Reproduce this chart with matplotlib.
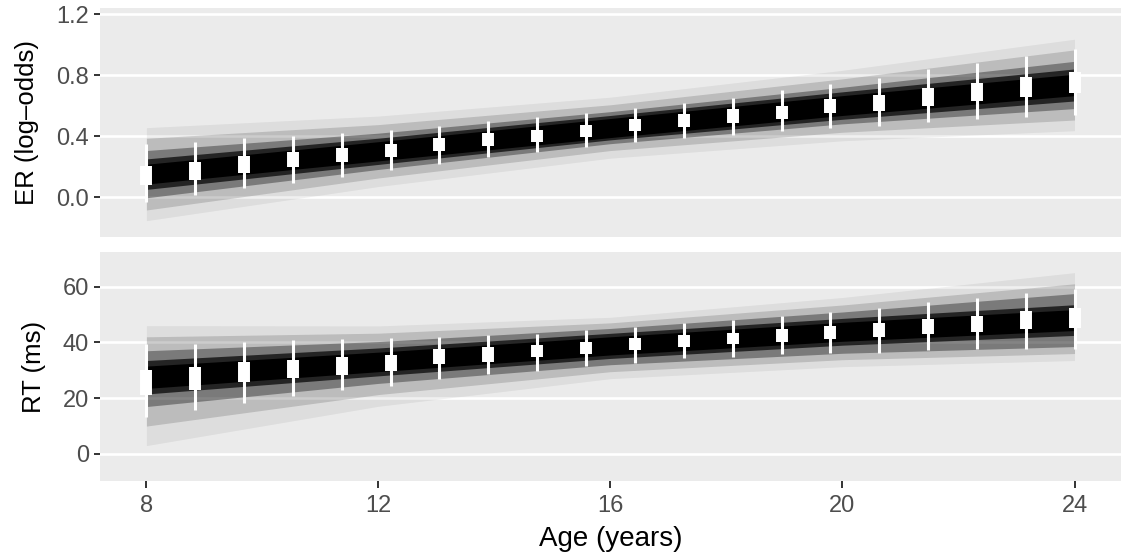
import matplotlib
matplotlib.use("Agg")
import matplotlib.pyplot as plt

plt.rcParams['font.family'] = ['Liberation Sans', 'DejaVu Sans']

# ages of the point intervals
ages = [8.0, 8.84, 9.68, 10.53, 11.37, 12.21, 13.05, 13.89, 14.74, 15.58,
        16.42, 17.26, 18.11, 18.95, 19.79, 20.63, 21.47, 22.32, 23.16, 24.0]

# ER (log-odds): thick and thin intervals
er_thick_lo = [0.079, 0.111, 0.155, 0.195, 0.228, 0.260, 0.304, 0.336, 0.363, 0.395,
               0.433, 0.461, 0.487, 0.511, 0.549, 0.566, 0.599, 0.630, 0.658, 0.684]
er_thick_hi = [0.205, 0.228, 0.271, 0.297, 0.323, 0.348, 0.385, 0.418, 0.440, 0.472,
               0.510, 0.542, 0.575, 0.599, 0.643, 0.669, 0.713, 0.746, 0.785, 0.822]
er_thin_lo = [-0.030, 0.013, 0.057, 0.094, 0.133, 0.177, 0.216, 0.260, 0.297, 0.326,
              0.359, 0.385, 0.407, 0.433, 0.454, 0.468, 0.494, 0.510, 0.527, 0.538]
er_thin_hi = [0.348, 0.363, 0.385, 0.400, 0.418, 0.440, 0.466, 0.498, 0.523, 0.549,
              0.582, 0.614, 0.651, 0.702, 0.739, 0.782, 0.837, 0.877, 0.925, 0.969]

# RT (ms): thick and thin intervals
rt_thick_lo = [21.1, 22.9, 25.8, 27.1, 28.3, 29.9, 32.3, 33.1, 34.7, 35.8,
               37.3, 38.2, 39.3, 40.3, 41.1, 42.0, 42.9, 43.6, 44.7, 45.1]
rt_thick_hi = [30.1, 31.1, 33.0, 33.7, 34.7, 35.5, 37.5, 38.5, 39.1, 40.3,
               41.5, 42.7, 43.5, 44.7, 45.9, 47.1, 48.4, 49.5, 51.3, 52.2]
rt_thin_lo = [13.1, 15.8, 18.2, 20.9, 22.9, 24.5, 26.8, 28.6, 29.7, 31.7,
              32.7, 34.3, 34.9, 35.7, 36.1, 36.3, 37.3, 37.5, 37.5, 37.8]
rt_thin_hi = [39.4, 39.4, 40.1, 40.9, 41.1, 41.5, 42.0, 42.7, 43.0, 44.4,
              45.4, 46.8, 48.0, 49.5, 51.0, 52.4, 54.6, 56.0, 57.8, 59.0]

# spread of the posterior line draws (lower, upper), read at these ages
band_ages = [8, 12, 16, 20, 24]
er_bands = {
    'faint': ([-0.155, 0.069, 0.255, 0.369, 0.435], [0.455, 0.531, 0.655, 0.831, 1.035]),
    'outer': ([-0.085, 0.125, 0.305, 0.425, 0.505], [0.385, 0.475, 0.605, 0.775, 0.965]),
    'mid':   ([-0.005, 0.181, 0.350, 0.480, 0.580], [0.305, 0.419, 0.560, 0.720, 0.890]),
    'dark':  ([0.050, 0.214, 0.375, 0.510, 0.630], [0.250, 0.386, 0.535, 0.690, 0.840]),
    'core':  ([0.085, 0.237, 0.390, 0.535, 0.665], [0.215, 0.363, 0.515, 0.665, 0.805]),
}
rt_bands = {
    'faint': ([3.0, 17.1, 27.0, 31.3, 33.5], [46.0, 45.9, 49.0, 56.1, 65.0]),
    'outer': ([10.0, 21.3, 29.5, 33.8, 36.0], [42.0, 43.3, 47.0, 53.4, 61.0]),
    'mid':   ([17.0, 25.3, 32.0, 36.1, 38.5], [37.0, 40.3, 45.0, 50.9, 57.5]),
    'dark':  ([21.5, 28.0, 34.25, 39.0, 42.5], [33.5, 38.0, 43.25, 48.6, 53.5]),
    'core':  ([23.5, 29.5, 35.5, 40.4, 44.25], [31.5, 36.5, 42.0, 47.2, 51.75]),
}
band_order = ['faint', 'outer', 'mid', 'dark', 'core']
band_alpha = {'faint': 0.06, 'outer': 0.15, 'mid': 0.35, 'dark': 0.7, 'core': 1.0}

fig = plt.figure(figsize=(11.26, 5.6), dpi=100)
ax1 = fig.add_axes([0.0888, 0.5768, 0.9067, 0.409])
ax2 = fig.add_axes([0.0888, 0.1405, 0.9067, 0.4095])


def draw_panel(ax, bands, thick_lo, thick_hi, thin_lo, thin_hi):
    ax.set_facecolor('#EBEBEB')
    for name in band_order:
        lo, hi = bands[name]
        ax.fill_between(band_ages, lo, hi, color='black', alpha=band_alpha[name],
                        linewidth=0, zorder=2)
    ax.vlines(ages, thin_lo, thin_hi, color='white', linewidth=2.2,
              capstyle='butt', zorder=3)
    ax.vlines(ages, thick_lo, thick_hi, color='white', linewidth=8.6,
              capstyle='butt', zorder=4)
    ax.set_axisbelow(True)
    ax.grid(axis='y', color='white', linewidth=1.9)
    ax.grid(axis='x', visible=False)
    for s in ax.spines.values():
        s.set_visible(False)
    ax.set_xlim(7.2, 24.8)
    ax.tick_params(axis='y', length=4, width=1.4, color='#333333',
                   labelsize=17, labelcolor='#4D4D4D', pad=4)


draw_panel(ax1, er_bands, er_thick_lo, er_thick_hi, er_thin_lo, er_thin_hi)
ax1.set_ylim(-0.262, 1.24)
ax1.set_yticks([0.0, 0.4, 0.8, 1.2])
ax1.set_yticklabels(['0.0', '0.4', '0.8', '1.2'])
ax1.set_xticks([])
ax1.set_ylabel('ER (log\u2013odds)', fontsize=18.5, labelpad=12)

draw_panel(ax2, rt_bands, rt_thick_lo, rt_thick_hi, rt_thin_lo, rt_thin_hi)
ax2.set_ylim(-9.8, 72.4)
ax2.set_yticks([0, 20, 40, 60])
ax2.set_xticks([8, 12, 16, 20, 24])
ax2.tick_params(axis='x', length=5, width=1.4, color='#333333',
                labelsize=17, labelcolor='#4D4D4D', pad=5)
ax2.set_ylabel('RT (ms)', fontsize=18.5, labelpad=12)
ax2.set_xlabel('Age (years)', fontsize=20, labelpad=6)

fig.savefig('out.png', dpi=100)
